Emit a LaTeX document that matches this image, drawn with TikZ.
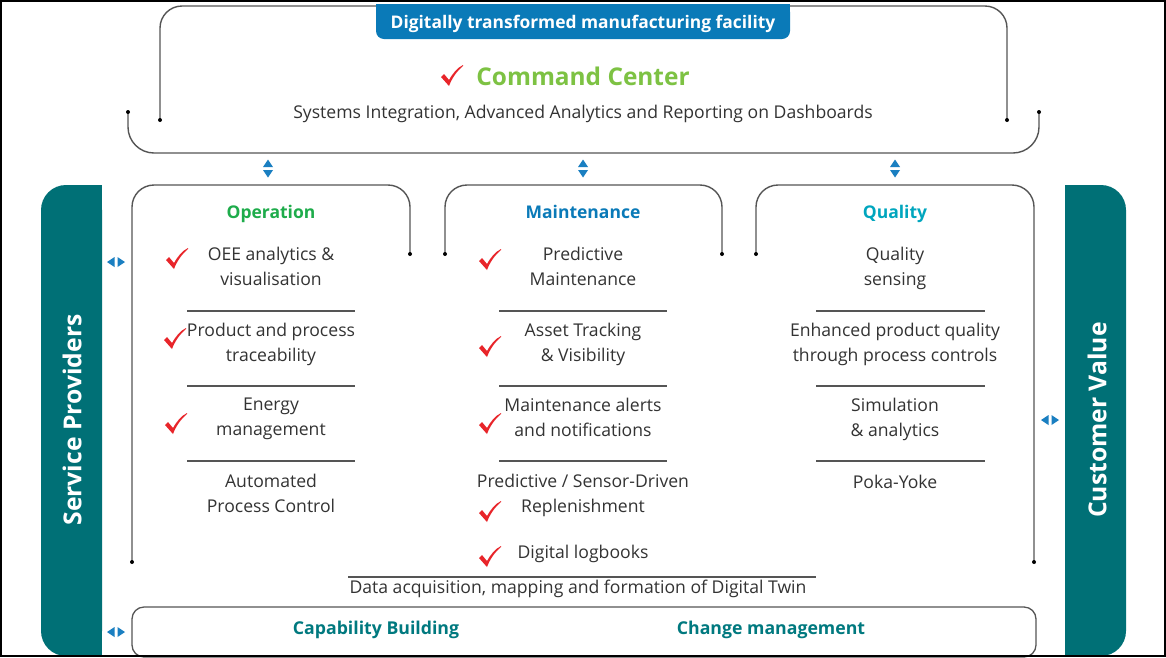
\documentclass[tikz,border=0pt]{standalone}
\usepackage{fontspec}
\setmainfont{Open Sans}
\begin{document}
\definecolor{barteal}{RGB}{0,112,118}
\definecolor{tabblue}{RGB}{10,122,184}
\definecolor{ccgreen}{RGB}{125,194,67}
\definecolor{opgreen}{RGB}{30,172,75}
\definecolor{qcyan}{RGB}{0,166,190}
\definecolor{capteal}{RGB}{0,121,127}
\definecolor{arrblue}{RGB}{26,127,193}
\definecolor{tickred}{RGB}{232,37,42}
\definecolor{txt}{RGB}{51,51,51}
\definecolor{linegray}{RGB}{85,85,85}
\begin{tikzpicture}[x=1pt,y=-1pt,
  body/.style={font=\fontsize{17.6}{25}\selectfont, text=txt, align=center, inner sep=0pt, text depth=4.2pt},
  head/.style={font=\fontsize{17.5}{20}\selectfont\bfseries, inner sep=0pt, text height=12.5pt, text depth=4pt},
  bracket/.style={draw=linegray, line width=1.4pt, rounded corners=22pt},
  sep/.style={draw=linegray, line width=1.2pt},
  enddot/.style={fill=black, circle, inner sep=0pt, minimum size=4pt},
  tick/.pic={\fill[tickred] (-11,1) -- (-8,-2) -- (-3,4) .. controls (1,-3) and (5,-8) .. (11,-11)
        -- (11,-10) .. controls (5,-5) and (0,2) .. (-3,10) -- cycle;},
  updown/.pic={\fill[arrblue] (0,-9) -- (-5,-1.5) -- (5,-1.5) -- cycle;
        \fill[arrblue] (0,9) -- (-5,1.5) -- (5,1.5) -- cycle;},
  leftright/.pic={\fill[arrblue] (-9,0) -- (-1.5,-5) -- (-1.5,5) -- cycle;
        \fill[arrblue] (9,0) -- (1.5,-5) -- (1.5,5) -- cycle;}
]
\useasboundingbox (0,0) rectangle (1166,657);
\fill[white] (0,0) rectangle (1166,657);

% ---- side bars ----
\fill[barteal, rounded corners=25pt] (41,185) rectangle (102,656);
\fill[barteal] (75,185) rectangle (102,656);
\node[rotate=90, text=white, font=\fontsize{24.7}{28}\selectfont\bfseries] (sp) at (72,420) {Service Providers};
\fill[barteal, rounded corners=25pt] (1065,185) rectangle (1126,656);
\fill[barteal] (1065,185) rectangle (1095,656);
\node[rotate=90, text=white, font=\fontsize{24.7}{28}\selectfont\bfseries] (cv) at (1097,420) {Customer Value};

% ---- top command-center brackets ----
\draw[bracket] (160,120) -- (160,6) -- (1007,6) -- (1007,120);
\node[enddot] (t1) at (160,120) {};
\node[enddot] (t2) at (1007,120) {};
\draw[bracket, rounded corners=26pt] (128,112) -- (128,153) -- (1039,153) -- (1039,112);
\node[enddot] (b1) at (128,112) {};
\node[enddot] (b2) at (1039,112) {};

% header tab
\fill[tabblue, rounded corners=8pt] (376,4) rectangle (790,39);
\fill[tabblue] (376,4) rectangle (790,20);
\node[text=white, font=\fontsize{17.4}{20}\selectfont\bfseries] (tab) at (583,24) {Digitally transformed manufacturing facility};

\node[text=ccgreen, font=\fontsize{24.4}{28}\selectfont\bfseries] (cc) at (583,76) {Command Center};
\pic at (452,76) {tick};
\node[body] (sys) at (583,114) {Systems Integration, Advanced Analytics and Reporting on Dashboards};

% vertical links between the command center and the columns
\pic at (268,168.5) {updown};
\pic at (583,168.5) {updown};
\pic at (895,168.5) {updown};
\pic at (116,262) {leftright};
\pic at (116,632) {leftright};
\pic at (1050,420) {leftright};

% ---- column brackets ----
\draw[bracket] (132,562) -- (132,185) -- (410,185) -- (410,254);
\node[enddot] (o1) at (132,562) {};
\node[enddot] (o2) at (410,254) {};
\draw[bracket] (445,254) -- (445,185) -- (722,185) -- (722,254);
\node[enddot] (m1) at (445,254) {};
\node[enddot] (m2) at (722,254) {};
\draw[bracket] (756,254) -- (756,185) -- (1034,185) -- (1034,562);
\node[enddot] (q1) at (756,254) {};
\node[enddot] (q2) at (1034,562) {};

% ---- Operation ----
\node[head, text=opgreen] (op) at (271,214) {Operation};
\node[body] (op1) at (271,268) {OEE analytics \&\\visualisation};
\node[body] (op2) at (271,344) {Product and process\\traceability};
\node[body] (op3) at (271,419) {Energy\\management};
\node[body] (op4) at (271,495) {Automated\\Process Control};
\draw[sep] (187,311) -- (355,311);
\draw[sep] (187,386) -- (355,386);
\draw[sep] (187,461) -- (355,461);
\pic at (177,259) {tick};
\pic at (175,339) {tick};
\pic at (176,424) {tick};

% ---- Maintenance ----
\node[head, text=tabblue] (mt) at (583,214) {Maintenance};
\node[body] (mt1) at (583,268) {Predictive\\Maintenance};
\node[body] (mt2) at (583,344) {Asset Tracking\\\& Visibility};
\node[body] (mt3) at (583,419) {Maintenance alerts\\and notifications};
\node[body] (mt4) at (583,495) {Predictive / Sensor-Driven\\Replenishment};
\node[body] (mt5) at (583,554) {Digital logbooks};
\draw[sep] (499,311) -- (667,311);
\draw[sep] (499,386) -- (667,386);
\draw[sep] (499,461) -- (667,461);
\pic at (490,260) {tick};
\pic at (490,347) {tick};
\pic at (490,424) {tick};
\pic at (490,512) {tick};
\pic at (490,557) {tick};

% ---- Quality ----
\node[head, text=qcyan] (ql) at (895,214) {Quality};
\node[body] (ql1) at (895,268) {Quality\\sensing};
\node[body] (ql2) at (895,344) {Enhanced product quality\\through process controls};
\node[body] (ql3) at (895,419) {Simulation\\\& analytics};
\node[body] (ql4) at (895,484) {Poka-Yoke};
\draw[sep] (816,311) -- (985,311);
\draw[sep] (816,386) -- (985,386);
\draw[sep] (816,461) -- (985,461);

% ---- data layer and enablers ----
\draw[sep] (348,577) -- (816,577);
\node[body] (data) at (578,589) {Data acquisition, mapping and formation of Digital Twin};
\draw[draw=linegray, line width=1.3pt, rounded corners=12pt] (132,607) rectangle (1036,657);
\node[text=capteal, font=\fontsize{17.7}{20}\selectfont\bfseries] (cap) at (376,630) {Capability Building};
\node[text=capteal, font=\fontsize{17.7}{20}\selectfont\bfseries] (chg) at (771,630) {Change management};

% frame
\draw[black, line width=2pt] (1,1) rectangle (1165,656);
\end{tikzpicture}
\end{document}
